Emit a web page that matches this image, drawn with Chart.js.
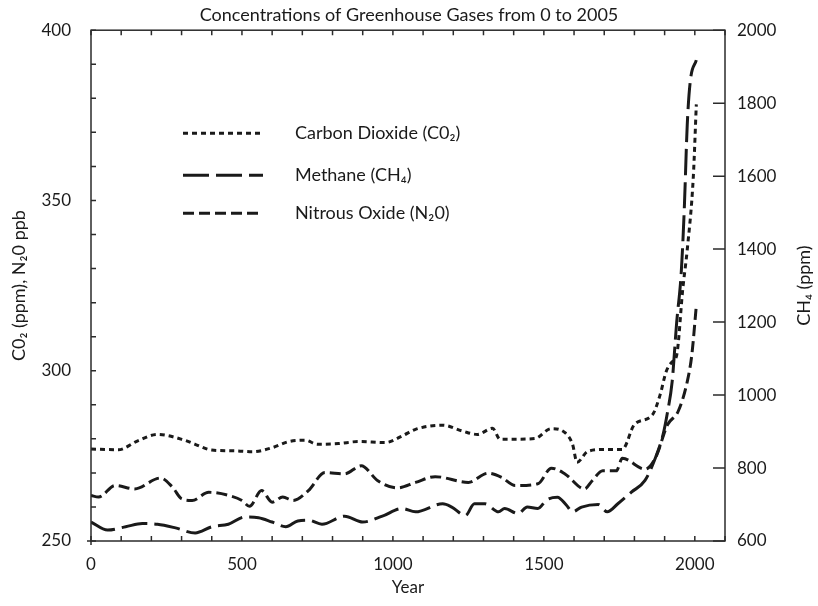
<!DOCTYPE html>
<html>
<head>
<meta charset="utf-8">
<script src="https://cdn.jsdelivr.net/npm/chart.js@4.4.1/dist/chart.umd.min.js"></script>
<style>
  html, body { margin: 0; padding: 0; background: #fff; }
</style>
</head>
<body>
<canvas id="myChart" width="818" height="606"></canvas>
<script>
///// greenhouse gases 0 - 2005

const co2Years = [0, 90, 155, 220, 310, 345, 400, 475, 535, 600, 655, 710, 750, 820, 885, 975, 1030, 1075,
  1165, 1230, 1280, 1330, 1355, 1405, 1470, 1525, 1570, 1595, 1610, 1645, 1705, 1760, 1800, 1860, 1885,
  1905, 1925, 1940, 1960, 1975, 1995, 2005];
const co2Values = [277.0, 276.8, 279.4, 281.3, 279.6, 278.4, 276.7, 276.5, 276.2, 277.4, 279.2, 279.6, 278.4,
  278.6, 279.2, 278.9, 280.8, 282.8, 284.0, 282.3, 281.3, 283.1, 279.9, 279.9, 280.1, 283.0, 281.8, 278.4,
  273.1, 276.3, 276.9, 276.9, 284.2, 287.1, 292.9, 299.7, 302.6, 304.6, 323.9, 335.6, 356.9, 378.2];

const ch4Years = [0, 55, 115, 170, 220, 280, 345, 400, 455, 510, 555, 600, 645, 685, 720, 765, 840, 900, 965,
  1030, 1075, 1165, 1195, 1240, 1270, 1305, 1350, 1370, 1415, 1445, 1480, 1510, 1545, 1575, 1595, 1625, 1680,
  1710, 1745, 1790, 1835, 1870, 1895, 1910, 1925, 1940, 1955, 1965, 1975, 1985, 2005];
const ch4Values = [652, 630, 639, 648, 646, 636, 622, 639, 646, 666, 664, 652, 639, 655, 657, 646, 668, 652, 668,
  689, 680, 702, 693, 670, 702, 702, 680, 689, 675, 693, 689, 713, 720, 698, 680, 693, 700,
  680, 702, 734, 766, 829, 892, 955, 1037, 1200, 1335, 1507, 1742, 1860, 1918];

const n2oYears = [0, 25, 80, 145, 230, 270, 300, 335, 390, 455, 500, 525, 565, 600, 635, 670, 720, 775, 840, 895,
  950, 1015, 1075, 1140, 1250, 1315, 1360, 1405, 1480, 1525, 1570, 1635, 1660, 1695, 1740, 1760, 1835, 1870,
  1910, 1945, 1975, 1990, 2005];
const n2oValues = [263.4, 262.9, 266.3, 265.3, 268.5, 265.8, 262.4, 261.9, 264.3, 263.4, 261.9, 260.2, 264.8,
  261.4, 262.9, 261.9, 264.8, 270.1, 269.7, 272.1, 267.7, 265.6, 267.2, 268.9, 267.2, 269.9, 268.7, 266.3,
  266.8, 271.4, 269.7, 265.3, 267.7, 270.6, 270.6, 274.3, 271.1, 274.5, 284.2, 288.1, 296.8, 304.6, 319.1];

const xTickLabels = [0, 500, 1000, 1500, 2000];
const leftTickLabels = [250, 300, 350, 400];

const FONT = "Lato, 'Noto Sans', sans-serif";
const INK = '#1a1a1a';

const pts = (xs, ys) => xs.map((x, i) => ({ x: x, y: ys[i] }));

const ctx = document.querySelector('#myChart').getContext('2d');

// frame + inward tick marks (excel style)
const frameTicks = {
  id: 'frameTicks',
  afterDatasetsDraw(chart) {
    const { ctx, chartArea: a, scales } = chart;
    ctx.save();
    ctx.strokeStyle = '#2b2b2b';
    ctx.lineWidth = 1.5;
    ctx.strokeRect(a.left, a.top, a.right - a.left, a.bottom - a.top);
    ctx.beginPath();
    scales.x.ticks.forEach((t) => {
      const px = scales.x.getPixelForValue(t.value);
      ctx.moveTo(px, a.bottom);
      ctx.lineTo(px, a.bottom - 5);
      ctx.moveTo(px, a.top);
      ctx.lineTo(px, a.top + 5);
    });
    scales.y.ticks.forEach((t) => {
      const py = scales.y.getPixelForValue(t.value);
      ctx.moveTo(a.left, py);
      ctx.lineTo(a.left + 5, py);
    });
    scales.y2.ticks.forEach((t) => {
      const py = scales.y2.getPixelForValue(t.value);
      ctx.moveTo(a.right, py);
      ctx.lineTo(a.right - 12, py);
    });
    // little cross at the origin
    ctx.moveTo(a.left, a.bottom);
    ctx.lineTo(a.left, a.bottom + 4);
    ctx.moveTo(a.left, a.bottom);
    ctx.lineTo(a.left - 4, a.bottom);
    ctx.stroke();
    ctx.restore();
  },
  afterDraw(chart) {
    const { ctx, chartArea: a } = chart;
    const rows = [103, 145, 183];
    ctx.save();
    // legend inside the plot
    chart.data.datasets.forEach((ds, i) => {
      const y = a.top + rows[i];
      ctx.strokeStyle = INK;
      ctx.lineWidth = ds.borderWidth;
      ctx.setLineDash(ds.borderDash);
      ctx.beginPath();
      ctx.moveTo(a.left + 92, y);
      ctx.lineTo(a.left + 172, y);
      ctx.stroke();
      ctx.setLineDash([]);
      ctx.fillStyle = INK;
      ctx.font = '18px ' + FONT;
      ctx.textBaseline = 'middle';
      ctx.textAlign = 'left';
      ctx.fillText(ds.label, a.left + 204, y);
    });
    // right axis title, reading upwards
    ctx.font = '18px ' + FONT;
    ctx.translate(804, (a.top + a.bottom) / 2);
    ctx.rotate(-Math.PI / 2);
    ctx.textAlign = 'center';
    ctx.textBaseline = 'middle';
    ctx.fillText('CH\u2084 (ppm)', 0, 0);
    ctx.restore();
  },
};

const config = {
  type: 'line',
  data: {
    datasets: [
      {
        label: 'Carbon Dioxide (C0\u2082)',
        data: pts(co2Years, co2Values),
        yAxisID: 'y',
        borderDash: [5, 4],
      },
      {
        label: 'Methane (CH\u2084)',
        data: pts(ch4Years, ch4Values),
        yAxisID: 'y2',
        borderDash: [26, 7],
      },
      {
        label: 'Nitrous Oxide (N\u20820)',
        data: pts(n2oYears, n2oValues),
        yAxisID: 'y',
        borderDash: [11, 5],
      },
    ].map((d) => Object.assign(d, {
      borderColor: INK,
      borderWidth: 3,
      pointRadius: 0,
      tension: 0.4,
      cubicInterpolationMode: 'monotone',
      fill: false,
    })),
  },
  options: {
    responsive: false,
    animation: false,
    layout: { padding: 0 },
    plugins: {
      legend: { display: false },
      tooltip: { enabled: false },
      title: {
        display: true,
        text: 'Concentrations of Greenhouse Gases from 0 to 2005',
        color: INK,
        font: { family: FONT, size: 18, weight: 'normal' },
        padding: { top: 0, bottom: 4 },
      },
    },
    scales: {
      x: {
        type: 'linear',
        min: 0,
        max: 2100,
        grid: { display: false, drawTicks: false },
        border: { display: false },
        afterFit: (s) => { s.height = 65; },
        ticks: {
          stepSize: 100,
          autoSkip: false,
          maxRotation: 0,
          padding: 13,
          color: INK,
          font: { family: FONT, size: 17 },
          callback: (v) => (xTickLabels.includes(v) ? String(v) : ''),
        },
        title: {
          display: true,
          text: 'Year',
          color: INK,
          font: { family: FONT, size: 17 },
          padding: { top: 4, bottom: 8 },
        },
      },
      y: {
        position: 'left',
        min: 250,
        max: 400,
        grid: { display: false, drawTicks: false },
        border: { display: false },
        afterFit: (s) => { s.width = 91; },
        ticks: {
          stepSize: 10,
          autoSkip: false,
          padding: 20,
          color: INK,
          font: { family: FONT, size: 17 },
          callback: (v) => (leftTickLabels.includes(v) ? String(v) : ''),
        },
        title: {
          display: true,
          text: 'C0\u2082 (ppm), N\u20820 ppb',
          color: INK,
          font: { family: FONT, size: 18 },
          padding: { top: 8, bottom: 4 },
        },
      },
      y2: {
        position: 'right',
        min: 600,
        max: 2000,
        grid: { display: false, drawTicks: false },
        border: { display: false },
        afterFit: (s) => { s.width = 93; },
        ticks: {
          stepSize: 200,
          autoSkip: false,
          padding: 12,
          color: INK,
          font: { family: FONT, size: 17 },
          callback: (v) => String(v),
        },
      },
    },
  },
  plugins: [frameTicks],
};

const myChart = new Chart(ctx, config);
</script>
</body>
</html>
